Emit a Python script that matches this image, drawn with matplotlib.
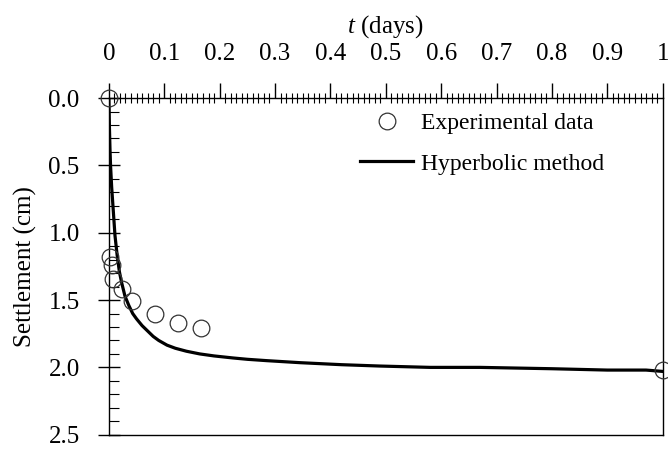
import matplotlib
matplotlib.use("Agg")
import matplotlib.pyplot as plt
from matplotlib.ticker import MultipleLocator, FixedFormatter, FixedLocator

plt.rcParams['font.family'] = ['Liberation Serif', 'DejaVu Serif']
plt.rcParams['mathtext.fontset'] = 'custom'
plt.rcParams['mathtext.it'] = 'Liberation Serif:italic'
plt.rcParams['mathtext.rm'] = 'Liberation Serif'

# experimental data (t in days, settlement in cm)
exp_t = [0.0, 0.002, 0.005, 0.007, 0.023, 0.042, 0.083, 0.125, 0.166, 1.0]
exp_s = [0.0, 1.18, 1.24, 1.34, 1.42, 1.51, 1.60, 1.67, 1.71, 2.02]

# hyperbolic method curve
hyp_t = [0.0, 0.001, 0.002, 0.003, 0.005, 0.007, 0.009, 0.011, 0.015, 0.019, 0.023,
         0.029, 0.036, 0.043, 0.05, 0.06, 0.07, 0.08, 0.09, 0.105, 0.12, 0.14, 0.164,
         0.19, 0.224, 0.25, 0.285, 0.345, 0.42, 0.489, 0.58, 0.67, 0.8, 0.9, 0.97, 1.0]
hyp_s = [0.0, 0.22, 0.38, 0.5, 0.66, 0.78, 0.9, 1.02, 1.17, 1.29, 1.37,
         1.47, 1.54, 1.60, 1.64, 1.69, 1.73, 1.77, 1.80, 1.835, 1.858, 1.88, 1.90,
         1.915, 1.93, 1.94, 1.95, 1.965, 1.98, 1.99, 2.0, 2.0, 2.01, 2.02, 2.02, 2.03]

x_ticks = [0, 0.1, 0.2, 0.3, 0.4, 0.5, 0.6, 0.7, 0.8, 0.9, 1.0]
x_labels = ["0", "0.1", "0.2", "0.3", "0.4", "0.5", "0.6", "0.7", "0.8", "0.9", "1"]

fig = plt.figure(figsize=(6.68, 4.5), dpi=100)
ax = fig.add_axes([0.163, 0.034, 0.829, 0.748])

ax.plot(hyp_t, hyp_s, color='black', lw=2.3, label='Hyperbolic method', zorder=2)
ax.plot(exp_t, exp_s, linestyle='none', marker='o', ms=12, mfc='none',
        mec='#333333', mew=0.9, label='Experimental data', clip_on=False, zorder=3)

ax.set_xlim(0, 1)
ax.set_ylim(2.5, 0)

ax.xaxis.tick_top()
ax.xaxis.set_label_position('top')
ax.xaxis.set_major_locator(FixedLocator(x_ticks))
ax.xaxis.set_major_formatter(FixedFormatter(x_labels))
ax.xaxis.set_minor_locator(MultipleLocator(0.01))
ax.yaxis.set_major_locator(MultipleLocator(0.5))
ax.yaxis.set_minor_locator(MultipleLocator(0.1))
ax.yaxis.set_major_formatter(matplotlib.ticker.FormatStrFormatter('%.1f'))

ax.tick_params(axis='x', which='major', direction='out', length=11, width=1,
               labelsize=18, pad=13)
ax.tick_params(axis='x', which='minor', direction='inout', length=7, width=0.8)
ax.tick_params(axis='y', which='major', direction='inout', length=16, width=1,
               labelsize=18, pad=13)
ax.tick_params(axis='y', which='minor', direction='in', length=7, width=0.8)

for sp in ax.spines.values():
    sp.set_linewidth(1.0)

ax.set_xlabel(r'$t$ (days)', fontsize=18, labelpad=7)
ax.set_ylabel('Settlement (cm)', fontsize=18, labelpad=8)

handles, labels = ax.get_legend_handles_labels()
ax.legend(handles[::-1], labels[::-1], loc='upper left', bbox_to_anchor=(0.437, 0.985),
          frameon=False, fontsize=17, handlelength=2.25, handletextpad=0.3,
          labelspacing=0.8, borderaxespad=0)

fig.savefig('out.png', dpi=100)
